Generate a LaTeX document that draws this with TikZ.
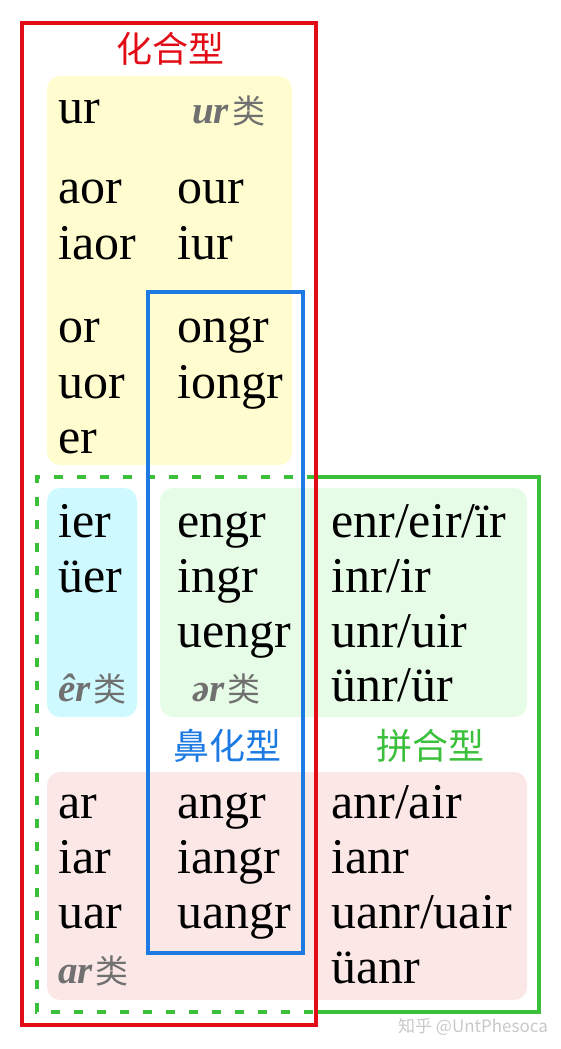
\documentclass[tikz,border=0pt]{standalone}
\usepackage{fontspec}
\setmainfont{Liberation Serif}
\newfontfamily\cjk{Noto Sans CJK SC}
\definecolor{cred}{RGB}{226,12,22}
\definecolor{cblue}{RGB}{28,122,226}
\definecolor{cgreen}{RGB}{58,192,58}
\definecolor{fyellow}{RGB}{255,253,208}
\definecolor{fcyan}{RGB}{206,250,255}
\definecolor{fgreen}{RGB}{231,252,231}
\definecolor{fpink}{RGB}{252,231,231}
\definecolor{cgray}{RGB}{112,112,112}
\definecolor{cwm}{RGB}{200,200,200}
\tikzset{
  entry/.style={anchor=base west, inner sep=0pt, font=\fontsize{50}{50}\selectfont},
  lbl/.style={anchor=base west, inner sep=0pt, text=cgray},
  ttl/.style={inner sep=0pt, font=\cjk\fontsize{36}{36}\selectfont},
  bg/.style={rounded corners=13pt, draw=none},
  frame/.style={line width=4pt}
}
\newcommand{\glbl}[1]{{\fontsize{39}{39}\selectfont\bfseries\itshape #1}\hspace{3pt}{\cjk\fontsize{33}{33}\selectfont 类}}
\begin{document}
\begin{tikzpicture}[x=1pt,y=-1pt]
\useasboundingbox (0,0) rectangle (561,1049);
% background fills
\fill[fyellow,bg] (47,76) rectangle (292,465);
\fill[fcyan,bg] (47,488) rectangle (137,717);
\fill[fgreen,bg] (160,488) rectangle (527,717);
\fill[fpink,bg] (47,772) rectangle (527,1000);
% green frame
\coordinate (gA) at (316,477);
\coordinate (gB) at (539,477);
\coordinate (gC) at (539,1012);
\coordinate (gD) at (316,1012);
\coordinate (gE) at (37,1012);
\coordinate (gF) at (37,477);
\draw[frame,cgreen] (gA) -- (gB) -- (gC) -- (gD);
\draw[frame,cgreen,dash pattern=on 9pt off 14pt] (gA) -- (gF) -- (gE) -- (gD);
% blue frame
\draw[frame,cblue] (148,292) rectangle (303,953);
% red frame
\draw[frame,cred] (22,23) rectangle (316,1025);
% titles
\node[ttl,text=cred] (t1) at (170,49) {化合型};
\node[ttl,text=cblue] (t2) at (227,746) {鼻化型};
\node[ttl,text=cgreen] (t3) at (430,746) {拼合型};
% yellow block
\node[entry] (ur) at (58,123) {ur};
\node[lbl] (urlei) at (192,123) {\glbl{ur}};
\node[entry] (aor) at (58,203) {aor};
\node[entry] (our) at (177,203) {our};
\node[entry] (iaor) at (58,259) {iaor};
\node[entry] (iur) at (177,259) {iur};
\node[entry] (or) at (58,342) {or};
\node[entry] (ongr) at (177,342) {ongr};
\node[entry] (uor) at (58,398) {uor};
\node[entry] (iongr) at (177,398) {iongr};
\node[entry] (er) at (58,453) {er};
% middle block
\node[entry] (ier) at (58,537) {ier};
\node[entry] (uer) at (58,592) {üer};
\node[lbl] (erlei) at (58,701) {\glbl{êr}};
\node[entry] (engr) at (177,537) {engr};
\node[entry] (ingr) at (177,592) {ingr};
\node[entry] (uengr) at (177,647) {uengr};
\node[lbl] (schwalei) at (192,701) {\glbl{ər}};
\node[entry] (enr) at (331,537) {enr/eir/ïr};
\node[entry] (inr) at (331,592) {inr/ir};
\node[entry] (unr) at (331,647) {unr/uir};
\node[entry] (vnr) at (331,701) {ünr/ür};
% pink block
\node[entry] (ar) at (58,818) {ar};
\node[entry] (iar) at (58,873) {iar};
\node[entry] (uar) at (58,928) {uar};
\node[lbl] (arlei) at (58,983) {\glbl{ar}};
\node[entry] (angr) at (177,818) {angr};
\node[entry] (iangr) at (177,873) {iangr};
\node[entry] (uangr) at (177,928) {uangr};
\node[entry] (anr) at (331,818) {anr/air};
\node[entry] (ianr) at (331,873) {ianr};
\node[entry] (uanr) at (331,928) {uanr/uair};
\node[entry] (vanr) at (331,983) {üanr};
% watermark
\node[inner sep=0pt,text=cwm,font=\cjk\fontsize{17}{17}\selectfont] (wm) at (473,1027) {知乎 @UntPhesoca};
\end{tikzpicture}
\end{document}
